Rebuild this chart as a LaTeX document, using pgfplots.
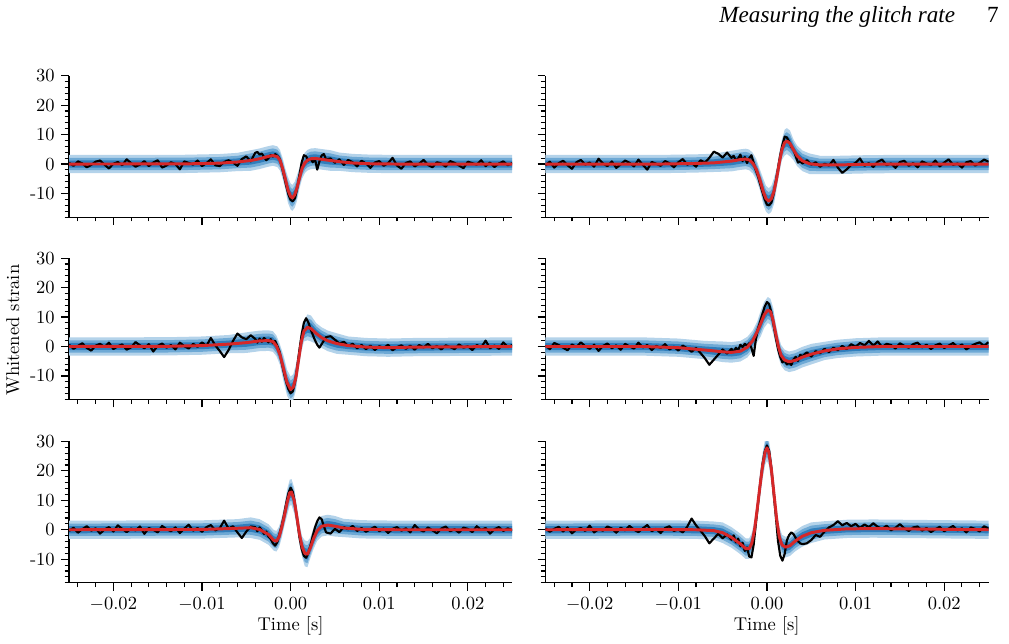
\documentclass[border=0pt]{standalone}
\usepackage{fontspec}
\usepackage{pgfplots}
\pgfplotsset{compat=1.18}
\usepackage{pgfplotstable}
\usepgfplotslibrary{fillbetween}
\newfontfamily\headfont{Liberation Serif}
\definecolor{bandL}{RGB}{180,211,234}
\definecolor{bandM}{RGB}{110,169,213}
\definecolor{bandD}{RGB}{48,126,188}
\definecolor{medred}{RGB}{214,39,40}
\pgfplotsset{
  panel/.style={
    scale only axis, width=239.5pt, height=76.4pt,
    xmin=-25, xmax=25, ymin=-18, ymax=30,
    axis x line=bottom, axis y line=left,
    axis line style={line width=0.6pt, -},
    tick align=outside,
    xtick={-20,-10,0,10,20},
    minor xtick={-24,-22,...,24},
    ytick={-10,0,10,20,30},
    minor ytick={-18,-16,...,28},
    major tick length=4.2pt, minor tick length=2.4pt,
    tick style={line width=0.6pt, black},
    xticklabels={}, yticklabels={},
    anchor=south west,
  },
  ylab/.style={yticklabels={-10,0,10,20,30}},
  xlab/.style={xticklabels={$-0.02$,$-0.01$,$0.00$,$0.01$,$0.02$}},
}
\newcommand{\panelplots}[2]{%
  \addplot[name path=hh3, draw=none, forget plot] table[x=t,y=h3]{#1};
  \addplot[name path=ll3, draw=none, forget plot] table[x=t,y=l3]{#1};
  \addplot[bandL, draw=none, forget plot] fill between[of=hh3 and ll3];
  \addplot[name path=hh2, draw=none, forget plot] table[x=t,y=h2]{#1};
  \addplot[name path=ll2, draw=none, forget plot] table[x=t,y=l2]{#1};
  \addplot[bandM, draw=none, forget plot] fill between[of=hh2 and ll2];
  \addplot[name path=hh1, draw=none, forget plot] table[x=t,y=h1]{#1};
  \addplot[name path=ll1, draw=none, forget plot] table[x=t,y=l1]{#1};
  \addplot[bandD, draw=none, forget plot] fill between[of=hh1 and ll1];
  \addplot[black, line width=1.15pt, line join=round] table[x=t,y=y]{#2};
  \addplot[medred, line width=1.6pt, line join=round] table[x=t,y=m]{#1};
}
\begin{document}
% ---------- median and credible bands (time in ms) ----------
\pgfplotstableread{
t m l3 l2 l1 h1 h2 h3
-25 0 -3.1 -2.1 -1.2 1.2 2.1 3.1
-12 0.05 -3.05 -2.05 -1.15 1.25 2.15 3.15
-8 0.3 -2.8 -1.8 -0.9 1.5 2.4 3.4
-6 0.7 -2.4 -1.4 -0.5 1.9 2.8 3.8
-4.5 1.2 -2.3 -1.2 -0.2 2.6 3.6 4.7
-3.5 1.8 -1.7 -0.6 0.4 3.2 4.2 5.3
-2.5 2.6 -0.9 0.2 1.2 4.0 5.0 6.1
-2 2.9 -0.6 0.5 1.5 4.3 5.3 6.4
-1.5 2.5 -1.0 0.1 1.1 3.9 4.9 6.0
-1.2 1.3 -2.2 -1.1 -0.1 2.7 3.7 4.8
-0.9 -1.5 -5.0 -3.9 -2.9 -0.1 0.9 2.0
-0.6 -5 -8.5 -7.4 -6.4 -3.6 -2.6 -1.5
-0.3 -8.8 -13.2 -11.8 -10.6 -7.0 -5.8 -4.4
0 -11 -15.4 -14.0 -12.8 -9.2 -8.0 -6.6
0.2 -11.5 -15.9 -14.5 -13.3 -9.7 -8.5 -7.1
0.45 -10.5 -14.9 -13.5 -12.3 -8.7 -7.5 -6.1
0.7 -8.3 -12.7 -11.3 -10.1 -6.5 -5.3 -3.9
1.0 -4.8 -8.3 -7.2 -6.2 -3.4 -2.4 -1.3
1.3 -1.4 -4.9 -3.8 -2.8 0.0 1.0 2.1
1.6 0.4 -3.1 -2.0 -1.0 1.8 2.8 3.9
1.9 1.3 -2.2 -1.1 -0.1 2.7 3.7 4.8
2.3 1.8 -1.7 -0.6 0.4 3.2 4.2 5.3
2.8 1.9 -1.6 -0.5 0.5 3.3 4.3 5.4
3.5 1.6 -1.9 -0.8 0.2 3.0 4.0 5.1
4.5 1.2 -2.3 -1.2 -0.2 2.6 3.6 4.7
5.5 0.8 -2.3 -1.3 -0.4 2.0 2.9 3.9
7 0.35 -2.75 -1.75 -0.85 1.55 2.45 3.45
9 0.1 -3.0 -2.0 -1.1 1.3 2.2 3.2
12 0 -3.1 -2.1 -1.2 1.2 2.1 3.1
25 0 -3.1 -2.1 -1.2 1.2 2.1 3.1
}\bandA
\pgfplotstableread{
t m l3 l2 l1 h1 h2 h3
-25 0 -3.1 -2.1 -1.2 1.2 2.1 3.1
-12 0 -3.1 -2.1 -1.2 1.2 2.1 3.1
-8 0.2 -2.9 -1.9 -1.0 1.4 2.3 3.3
-6 0.4 -2.7 -1.7 -0.8 1.6 2.5 3.5
-4 1.0 -2.5 -1.4 -0.4 2.4 3.4 4.5
-3 1.5 -2.0 -0.9 0.1 2.9 3.9 5.0
-2.4 1.7 -1.8 -0.7 0.3 3.1 4.1 5.2
-2 1.4 -2.1 -1.0 0.0 2.8 3.8 4.9
-1.6 0.3 -3.2 -2.1 -1.1 1.7 2.7 3.8
-1.2 -1.8 -5.3 -4.2 -3.2 -0.4 0.6 1.7
-0.8 -5.3 -8.8 -7.7 -6.7 -3.9 -2.9 -1.8
-0.4 -9.5 -13.9 -12.5 -11.3 -7.7 -6.5 -5.1
-0.1 -11.8 -16.2 -14.8 -13.6 -10.0 -8.8 -7.4
0.2 -12.6 -17.0 -15.6 -14.4 -10.8 -9.6 -8.2
0.5 -11.8 -16.2 -14.8 -13.6 -10.0 -8.8 -7.4
0.8 -9.2 -13.6 -12.2 -11.0 -7.4 -6.2 -4.8
1.1 -4.8 -8.3 -7.2 -6.2 -3.4 -2.4 -1.3
1.4 0.5 -3.0 -1.9 -0.9 1.9 2.9 4.0
1.7 5.0 1.5 2.6 3.6 6.4 7.4 8.5
2.0 7.3 2.9 4.3 5.5 9.1 10.3 11.7
2.25 7.8 3.4 4.8 6.0 9.6 10.8 12.2
2.6 7.0 2.6 4.0 5.2 8.8 10.0 11.4
3.0 4.8 1.3 2.4 3.4 6.2 7.2 8.3
3.4 2.8 -0.7 0.4 1.4 4.2 5.2 6.3
4.0 1.1 -2.4 -1.3 -0.3 2.5 3.5 4.6
4.8 0.1 -3.4 -2.3 -1.3 1.5 2.5 3.6
6 -0.3 -3.4 -2.4 -1.5 0.9 1.8 2.8
8 -0.3 -3.4 -2.4 -1.5 0.9 1.8 2.8
11 -0.1 -3.2 -2.2 -1.3 1.1 2.0 3.0
14 0 -3.1 -2.1 -1.2 1.2 2.1 3.1
25 0 -3.1 -2.1 -1.2 1.2 2.1 3.1
}\bandB
\pgfplotstableread{
t m l3 l2 l1 h1 h2 h3
-25 0 -3.1 -2.1 -1.2 1.2 2.1 3.1
-14 0.05 -3.05 -2.05 -1.15 1.25 2.15 3.15
-10 0.3 -2.8 -1.8 -0.9 1.5 2.4 3.4
-7 0.8 -2.3 -1.3 -0.4 2.0 2.9 3.9
-5 1.3 -2.2 -1.1 -0.1 2.7 3.7 4.8
-3.5 1.9 -1.6 -0.5 0.5 3.3 4.3 5.4
-2.5 2.0 -1.5 -0.4 0.6 3.4 4.4 5.5
-2 1.7 -1.8 -0.7 0.3 3.1 4.1 5.2
-1.6 0.2 -3.3 -2.2 -1.2 1.6 2.6 3.7
-1.2 -2.8 -6.3 -5.2 -4.2 -1.4 -0.4 0.7
-0.8 -7.5 -11.9 -10.5 -9.3 -5.7 -4.5 -3.1
-0.4 -12.3 -16.7 -15.3 -14.1 -10.5 -9.3 -7.9
0 -14.6 -19.0 -17.6 -16.4 -12.8 -11.6 -10.2
0.3 -13.8 -18.2 -16.8 -15.6 -12.0 -10.8 -9.4
0.6 -10.5 -14.9 -13.5 -12.3 -8.7 -7.5 -6.1
0.9 -4.5 -8.0 -6.9 -5.9 -3.1 -2.1 -1.0
1.2 1.5 -2.0 -0.9 0.1 2.9 3.9 5.0
1.5 5.2 1.7 2.8 3.8 6.6 7.6 8.7
1.9 6.5 2.1 3.5 4.7 8.3 9.5 10.9
2.3 6.1 1.7 3.1 4.3 7.9 9.1 10.5
2.9 4.4 0.9 2.0 3.0 5.8 6.8 7.9
3.5 3.0 -0.5 0.6 1.6 4.4 5.4 6.5
4.2 1.9 -1.6 -0.5 0.5 3.3 4.3 5.4
5.2 1.0 -2.5 -1.4 -0.4 2.4 3.4 4.5
6.5 0.3 -2.8 -1.8 -0.9 1.5 2.4 3.4
8.5 -0.2 -3.3 -2.3 -1.4 1.0 1.9 2.9
11 -0.4 -3.5 -2.5 -1.6 0.8 1.7 2.7
14 -0.2 -3.3 -2.3 -1.4 1.0 1.9 2.9
25 0 -3.1 -2.1 -1.2 1.2 2.1 3.1
}\bandC
\pgfplotstableread{
t m l3 l2 l1 h1 h2 h3
-25 0 -3.1 -2.1 -1.2 1.2 2.1 3.1
-14 0 -3.1 -2.1 -1.2 1.2 2.1 3.1
-10 -0.4 -3.5 -2.5 -1.6 0.8 1.7 2.7
-7 -1.2 -4.3 -3.3 -2.4 0.0 0.9 1.9
-5 -1.8 -5.3 -4.2 -3.2 -0.4 0.6 1.7
-4 -2.0 -5.5 -4.4 -3.4 -0.6 0.4 1.5
-3 -1.6 -5.1 -4.0 -3.0 -0.2 0.8 1.9
-2.2 -0.2 -3.7 -2.6 -1.6 1.2 2.2 3.3
-1.6 2.0 -1.5 -0.4 0.6 3.4 4.4 5.5
-1.1 5.0 1.5 2.6 3.6 6.4 7.4 8.5
-0.7 7.8 3.4 4.8 6.0 9.6 10.8 12.2
-0.3 10.8 6.4 7.8 9.0 12.6 13.8 15.2
0.1 12.4 8.0 9.4 10.6 14.2 15.4 16.8
0.4 11.8 7.4 8.8 10.0 13.6 14.8 16.2
0.7 8.8 4.4 5.8 7.0 10.6 11.8 13.2
1.0 4.2 0.7 1.8 2.8 5.6 6.6 7.7
1.3 -0.1 -3.6 -2.5 -1.5 1.3 2.3 3.4
1.6 -3.0 -6.5 -5.4 -4.4 -1.6 -0.6 0.5
2.0 -4.6 -8.1 -7.0 -6.0 -3.2 -2.2 -1.1
2.5 -5.2 -8.7 -7.6 -6.6 -3.8 -2.8 -1.7
3.2 -4.7 -8.2 -7.1 -6.1 -3.3 -2.3 -1.2
4.0 -3.6 -7.1 -6.0 -5.0 -2.2 -1.2 -0.1
5.0 -2.6 -6.1 -5.0 -4.0 -1.2 -0.2 0.9
6.5 -1.5 -4.6 -3.6 -2.7 -0.3 0.6 1.6
8 -0.8 -3.9 -2.9 -2.0 0.4 1.3 2.3
10 -0.3 -3.4 -2.4 -1.5 0.9 1.8 2.8
13 0 -3.1 -2.1 -1.2 1.2 2.1 3.1
25 0 -3.1 -2.1 -1.2 1.2 2.1 3.1
}\bandD
\pgfplotstableread{
t m l3 l2 l1 h1 h2 h3
-25 0 -3.1 -2.1 -1.2 1.2 2.1 3.1
-10 0.1 -3.0 -2.0 -1.1 1.3 2.2 3.2
-6 0.5 -2.6 -1.6 -0.7 1.7 2.6 3.6
-4.5 0.7 -2.8 -1.7 -0.7 2.1 3.1 4.2
-3.5 0.1 -3.4 -2.3 -1.3 1.5 2.5 3.6
-2.5 -1.6 -5.1 -4.0 -3.0 -0.2 0.8 1.9
-1.9 -3.6 -7.1 -6.0 -5.0 -2.2 -1.2 -0.1
-1.6 -3.9 -7.4 -6.3 -5.3 -2.5 -1.5 -0.4
-1.3 -2.4 -5.9 -4.8 -3.8 -1.0 0.0 1.1
-1.0 0.8 -2.7 -1.6 -0.6 2.2 3.2 4.3
-0.7 4.8 1.3 2.4 3.4 6.2 7.2 8.3
-0.4 9.2 4.8 6.2 7.4 11.0 12.2 13.6
-0.1 12.6 8.2 9.6 10.8 14.4 15.6 17.0
0.1 12.8 8.4 9.8 11.0 14.6 15.8 17.2
0.4 10.0 5.6 7.0 8.2 11.8 13.0 14.4
0.7 4.5 1.0 2.1 3.1 5.9 6.9 8.0
1.0 -1.5 -5.0 -3.9 -2.9 -0.1 0.9 2.0
1.3 -5.8 -9.3 -8.2 -7.2 -4.4 -3.4 -2.3
1.6 -8.0 -12.4 -11.0 -9.8 -6.2 -5.0 -3.6
1.9 -8.3 -12.7 -11.3 -10.1 -6.5 -5.3 -3.9
2.2 -6.3 -9.8 -8.7 -7.7 -4.9 -3.9 -2.8
2.6 -2.9 -6.4 -5.3 -4.3 -1.5 -0.5 0.6
3.0 -0.3 -3.8 -2.7 -1.7 1.1 2.1 3.2
3.5 1.2 -2.3 -1.2 -0.2 2.6 3.6 4.7
4.2 1.6 -1.9 -0.8 0.2 3.0 4.0 5.1
5 1.2 -2.3 -1.2 -0.2 2.6 3.6 4.7
6 0.6 -2.5 -1.5 -0.6 1.8 2.7 3.7
8 0.15 -2.95 -1.95 -1.05 1.35 2.25 3.25
12 0 -3.1 -2.1 -1.2 1.2 2.1 3.1
25 0 -3.1 -2.1 -1.2 1.2 2.1 3.1
}\bandE
\pgfplotstableread{
t m l3 l2 l1 h1 h2 h3
-25 0 -3.1 -2.1 -1.2 1.2 2.1 3.1
-12 0.1 -3.0 -2.0 -1.1 1.3 2.2 3.2
-8 0 -3.1 -2.1 -1.2 1.2 2.1 3.1
-6 -0.3 -3.4 -2.4 -1.5 0.9 1.8 2.8
-5 -1.0 -4.5 -3.4 -2.4 0.4 1.4 2.5
-4 -2.6 -6.1 -5.0 -4.0 -1.2 -0.2 0.9
-3 -4.8 -8.3 -7.2 -6.2 -3.4 -2.4 -1.3
-2.4 -6.4 -9.9 -8.8 -7.8 -5.0 -4.0 -2.9
-2.0 -6.4 -9.9 -8.8 -7.8 -5.0 -4.0 -2.9
-1.7 -4.5 -8.0 -6.9 -5.9 -3.1 -2.1 -1.0
-1.4 0.0 -3.5 -2.4 -1.4 1.4 2.4 3.5
-1.1 7.0 3.5 4.6 5.6 8.4 9.4 10.5
-0.8 14.5 10.1 11.5 12.7 16.3 17.5 18.9
-0.5 21.5 17.1 18.5 19.7 23.3 24.5 25.9
-0.2 26.5 22.1 23.5 24.7 28.3 29.5 30.9
0.0 27.8 23.4 24.8 26.0 29.6 30.8 32.2
0.2 26.5 22.1 23.5 24.7 28.3 29.5 30.9
0.5 20.5 16.1 17.5 18.7 22.3 23.5 24.9
0.8 12 7.6 9.0 10.2 13.8 15.0 16.4
1.1 3.5 0.0 1.1 2.1 4.9 5.9 7.0
1.4 -2.5 -6.0 -4.9 -3.9 -1.1 -0.1 1.0
1.7 -5.2 -8.7 -7.6 -6.6 -3.8 -2.8 -1.7
2.1 -5.9 -9.4 -8.3 -7.3 -4.5 -3.5 -2.4
2.6 -5.4 -8.9 -7.8 -6.8 -4.0 -3.0 -1.9
3.2 -3.8 -7.3 -6.2 -5.2 -2.4 -1.4 -0.3
4.0 -2.2 -5.7 -4.6 -3.6 -0.8 0.2 1.3
5 -1.0 -4.5 -3.4 -2.4 0.4 1.4 2.5
6.5 -0.2 -3.3 -2.3 -1.4 1.0 1.9 2.9
9 0.3 -2.8 -1.8 -0.9 1.5 2.4 3.4
12 0.4 -2.7 -1.7 -0.8 1.6 2.5 3.5
25 0 -3.1 -2.1 -1.2 1.2 2.1 3.1
}\bandF
% ---------- whitened data (time in ms) ----------
\pgfplotstableread{
t y
-25 0.4
-24.5 -0.6
-24 0.9
-23.5 0.2
-23 -1.1
-22.5 -0.3
-22 0.8
-21.5 1.2
-21 -0.2
-20.5 -1.5
-20 0.1
-19.5 0.7
-19 -0.4
-18.5 1.6
-18 0.3
-17.5 -0.9
-17 -0.2
-16.5 1.0
-16 -0.7
-15.5 0.5
-15 1.3
-14.5 -1.2
-14 -0.5
-13.5 0.6
-13 0.0
-12.5 -1.8
-12 0.9
-11.5 0.4
-11 -0.2
-10.5 1.2
-10 -0.7
-9.5 0.3
-9 1.6
-8.5 -0.4
-8 -0.7
-7.5 0.7
-7 1.3
-6.5 0.5
-6 -0.6
-5.5 1.7
-5 2.6
-4.5 0.9
-4 3.8
-3.75 4.1
-3.5 3.2
-3.25 3.6
-3 2.4
-2.75 1.3
-2.5 2.0
-2.25 3.1
-2 2.5
-1.75 3.4
-1.5 2.8
-1.25 1.9
-1 -0.8
-0.75 -4.0
-0.5 -7.4
-0.25 -10.3
0 -12.2
0.25 -12.6
0.5 -11.6
0.75 -8.0
1.0 -3.6
1.25 0.6
1.5 3.0
1.75 2.6
2.0 1.2
2.25 1.8
2.5 0.6
2.75 1.7
3.0 -1.9
3.25 0.9
3.5 2.9
3.75 3.4
4.0 1.6
4.5 1.9
5 0.4
5.5 1.6
6 -0.3
6.5 1.4
7 0.6
7.5 -0.8
8 1.1
8.5 0.2
9 -1.3
9.5 0.5
10 1.0
10.5 -0.6
11 0.3
11.5 2.1
12 -0.5
12.5 -1.6
13 0.4
13.5 0.9
14 -0.8
14.5 0.1
15 1.4
15.5 -0.3
16 -1.1
16.5 0.6
17 0.2
17.5 -0.9
18 1.0
18.5 0.4
19 -0.5
19.5 -1.4
20 0.8
20.5 0.3
21 -0.2
21.5 1.3
22 -0.7
22.5 0.5
23 -1.0
23.5 0.2
24 0.9
24.5 -0.4
25 0.3
}\dataA
\pgfplotstableread{
t y
-25 -0.5
-24.5 0.8
-24 -1.2
-23.5 0.3
-23 1.1
-22.5 -0.4
-22 -1.6
-21.5 0.6
-21 1.4
-20.5 -0.2
-20 0.5
-19.5 -0.9
-19 1.8
-18.5 0.2
-18 -0.7
-17.5 0.9
-17 -1.3
-16.5 -0.1
-16 1.2
-15.5 0.4
-15 -0.8
-14.5 1.5
-14 -0.3
-13.5 -1.9
-13 0.7
-12.5 0.1
-12 -0.6
-11.5 1.0
-11 0.3
-10.5 -1.1
-10 0.6
-9.5 1.7
-9 -0.2
-8.5 0.4
-8 -0.9
-7.5 1.3
-7 0.5
-6.5 2.1
-6 4.2
-5.5 3.5
-5 2.2
-4.5 3.9
-4 2.1
-3.75 2.8
-3.5 1.2
-3.25 1.9
-3 3.2
-2.75 1.0
-2.5 2.4
-2.25 0.3
-2 2.0
-1.75 3.0
-1.5 0.4
-1.25 -2.2
-1 -4.3
-0.75 -7.0
-0.5 -9.6
-0.25 -12.0
0 -13.8
0.25 -14.0
0.5 -13.1
0.75 -10.2
1.0 -5.8
1.25 -1.4
1.5 3.0
1.75 6.6
2.0 9.3
2.25 9.0
2.5 7.6
2.75 5.8
3.0 4.9
3.25 2.6
3.5 0.5
3.75 0.9
4.0 0.2
4.5 1.3
5 -0.2
5.5 0.6
6 -0.9
6.5 0.1
7 -0.5
7.5 1.4
8 -1.2
8.5 -3.0
9 -1.8
9.5 -0.3
10 0.4
10.5 1.9
11 -0.6
11.5 0.3
12 -1.0
12.5 0.8
13 1.5
13.5 -0.4
14 0.2
14.5 -1.3
15 0.7
15.5 1.1
16 -0.6
16.5 0.3
17 -1.1
17.5 0.9
18 0.2
18.5 -0.4
19 1.2
19.5 -0.8
20 0.5
20.5 1.6
21 -0.3
21.5 0.2
22 -1.2
22.5 0.6
23 1.0
23.5 -0.5
24 0.4
24.5 1.5
25 0.8
}\dataB
\pgfplotstableread{
t y
-25 0.6
-24.5 -0.8
-24 0.2
-23.5 1.1
-23 -0.5
-22.5 -1.4
-22 0.3
-21.5 0.9
-21 -0.2
-20.5 1.3
-20 -0.9
-19.5 0.1
-19 0.7
-18.5 -1.1
-18 -0.3
-17.5 1.5
-17 0.4
-16.5 -0.6
-16 0.8
-15.5 -1.7
-15 0.2
-14.5 1.0
-14 -0.4
-13.5 0.5
-13 -1.0
-12.5 1.3
-12 0.1
-11.5 -0.7
-11 0.9
-10.5 -0.1
-10 1.4
-9.5 0.2
-9 2.9
-8.5 0.4
-8 -1.5
-7.5 -3.6
-7 -1.2
-6.5 1.9
-6 4.4
-5.5 3.1
-5 2.5
-4.5 3.8
-4 2.6
-3.75 1.3
-3.5 2.7
-3.25 1.6
-3 2.9
-2.75 2.2
-2.5 1.4
-2.25 2.5
-2 1.1
-1.75 1.9
-1.5 0.2
-1.25 -1.8
-1 -5.6
-0.75 -9.0
-0.5 -12.1
-0.25 -14.5
0 -15.9
0.25 -15.2
0.5 -12.0
0.75 -6.8
1.0 -1.0
1.25 4.2
1.5 8.1
1.75 9.6
2.0 8.2
2.25 5.9
2.5 4.0
2.75 2.1
3.0 0.6
3.25 -0.4
3.5 0.8
3.75 2.0
4.0 3.2
4.5 3.5
5 2.3
5.5 1.0
6 1.6
6.5 0.2
7 0.9
7.5 -0.6
8 0.5
8.5 -0.9
9 0.3
9.5 -1.2
10 0.1
10.5 -0.5
11 0.6
11.5 -1.3
12 -0.2
12.5 0.4
13 -0.8
13.5 0.3
14 -1.1
14.5 0.5
15 -0.3
15.5 0.9
16 -0.6
16.5 0.2
17 -1.0
17.5 0.4
18 -0.2
18.5 -0.9
19 0.7
19.5 -0.4
20 0.1
20.5 -1.2
21 0.5
21.5 -0.3
22 2.0
22.5 -0.6
23 0.3
23.5 -0.8
24 1.4
24.5 -0.2
25 0.5
}\dataC
\pgfplotstableread{
t y
-25 0.3
-24.5 -0.9
-24 1.2
-23.5 0.5
-23 -0.4
-22.5 -1.3
-22 0.7
-21.5 -0.2
-21 1.4
-20.5 0.1
-20 -0.8
-19.5 0.6
-19 -1.5
-18.5 0.2
-18 1.0
-17.5 -0.6
-17 0.4
-16.5 -1.1
-16 0.9
-15.5 0.0
-15 -0.7
-14.5 1.3
-14 -0.3
-13.5 0.5
-13 -1.2
-12.5 0.2
-12 -0.5
-11.5 0.8
-11 -1.0
-10.5 -0.1
-10 -1.4
-9.5 0.3
-9 -0.6
-8.5 -1.8
-8 -0.5
-7.5 -2.2
-7 -4.0
-6.5 -6.2
-6 -4.5
-5.5 -2.8
-5 -1.0
-4.5 -2.4
-4 -0.8
-3.75 -1.9
-3.5 -0.4
-3.25 -1.3
-3 0.6
-2.75 -0.2
-2.5 0.9
-2.25 0.3
-2 1.1
-1.75 -0.5
-1.5 -3.2
-1.25 2.4
-1 6.3
-0.75 8.6
-0.5 11.2
-0.25 13.6
0 15.1
0.25 14.3
0.5 11.6
0.75 7.2
1.0 2.9
1.25 -0.9
1.5 -3.6
1.75 -5.4
2.0 -4.8
2.25 -6.1
2.5 -5.5
2.75 -6.3
3.0 -4.4
3.25 -3.5
3.5 -4.9
3.75 -2.8
4.0 -3.3
4.5 -2.0
5 -3.4
5.5 -1.6
6 -2.3
6.5 -0.8
7 -1.9
7.5 -0.4
8 -1.3
8.5 0.2
9 -0.9
9.5 0.8
10 -0.1
10.5 1.2
11 0.4
11.5 1.9
12 0.3
12.5 1.7
13 -0.2
13.5 0.9
14 0.5
14.5 -0.7
15 1.1
15.5 0.2
16 -0.4
16.5 0.8
17 1.3
17.5 -0.3
18 0.6
18.5 -0.9
19 0.4
19.5 1.0
20 -0.5
20.5 0.3
21 1.2
21.5 -0.2
22 0.7
22.5 -1.0
23 0.1
23.5 0.9
24 1.4
24.5 0.2
25 1.5
}\dataD
\pgfplotstableread{
t y
-25 -0.4
-24.5 0.7
-24 -1.0
-23.5 0.2
-23 1.2
-22.5 -0.3
-22 0.5
-21.5 -1.3
-21 0.1
-20.5 0.9
-20 -0.6
-19.5 1.5
-19 0.3
-18.5 -0.8
-18 0.4
-17.5 -0.2
-17 1.1
-16.5 -1.4
-16 0.6
-15.5 0.0
-15 -0.9
-14.5 1.3
-14 0.2
-13.5 -0.5
-13 0.8
-12.5 -1.1
-12 0.4
-11.5 1.7
-11 -0.3
-10.5 0.6
-10 -0.7
-9.5 0.9
-9 1.6
-8.5 -0.2
-8 0.5
-7.5 3.1
-7 0.4
-6.5 1.2
-6 -0.9
-5.5 -2.8
-5 -0.6
-4.5 1.1
-4 0.9
-3.75 -0.5
-3.5 0.8
-3.25 -0.2
-3 -1.4
-2.75 -0.6
-2.5 -2.3
-2.25 -3.1
-2 -4.6
-1.75 -5.4
-1.5 -4.2
-1.25 -1.3
-1 1.5
-0.75 5.0
-0.5 9.0
-0.25 12.4
0 14.3
0.25 12.8
0.5 8.6
0.75 3.0
1.0 -2.6
1.25 -6.6
1.5 -8.9
1.75 -9.5
2.0 -7.8
2.25 -5.2
2.5 -2.0
2.75 0.8
3.0 2.9
3.25 4.2
3.5 3.6
3.75 1.2
4.0 -0.9
4.5 -1.3
5 0.3
5.5 -0.8
6 0.9
6.5 0.2
7 1.3
7.5 -0.4
8 0.6
8.5 -0.7
9 0.2
9.5 1.0
10 -0.5
10.5 0.4
11 -1.1
11.5 0.3
12 0.9
12.5 -0.3
13 0.5
13.5 -0.9
14 1.6
14.5 0.1
15 -0.6
15.5 0.8
16 -0.2
16.5 -1.2
17 0.4
17.5 1.1
18 -0.5
18.5 0.2
19 -1.0
19.5 0.7
20 0.3
20.5 -0.8
21 1.2
21.5 -0.1
22 0.6
22.5 -1.3
23 0.2
23.5 0.9
24 -0.4
24.5 0.5
25 -0.2
}\dataE
\pgfplotstableread{
t y
-25 0.5
-24.5 -0.7
-24 0.3
-23.5 1.0
-23 -0.6
-22.5 0.8
-22 -1.2
-21.5 0.1
-21 0.6
-20.5 -0.4
-20 1.4
-19.5 -0.9
-19 0.2
-18.5 -0.3
-18 1.1
-17.5 0.4
-17 -1.0
-16.5 0.7
-16 -0.2
-15.5 1.3
-15 0.0
-14.5 -0.8
-14 0.5
-13.5 1.6
-13 -0.5
-12.5 0.3
-12 -1.1
-11.5 0.6
-11 1.2
-10.5 -0.4
-10 0.1
-9.5 -0.9
-9 1.0
-8.5 3.8
-8 1.5
-7.5 -0.3
-7 -2.2
-6.5 -4.6
-6 -3.0
-5.5 -1.4
-5 -2.9
-4.5 -1.6
-4 -3.4
-3.75 -1.9
-3.5 -4.3
-3.25 -3.0
-3 -5.6
-2.75 -4.4
-2.5 -7.2
-2.25 -6.0
-2 -9.1
-1.75 -9.4
-1.5 -5.1
-1.25 2.0
-1 9.0
-0.75 15.9
-0.5 22.3
-0.25 26.6
0 28.6
0.25 26.8
0.5 20.9
0.75 12.6
1.0 4.6
1.25 -3.9
1.5 -8.8
1.75 -10.5
2.0 -8.2
2.25 -3.6
2.5 -1.8
2.75 -0.9
3.0 -1.5
3.25 -2.8
3.5 -3.9
3.75 -4.6
4.0 -4.9
4.5 -4.6
5 -3.5
5.5 -1.8
6 -2.4
6.5 -0.6
7 0.8
7.5 1.6
8 2.9
8.5 1.5
9 2.3
9.5 1.2
10 2.0
10.5 0.6
11 1.8
11.5 0.9
12 2.2
12.5 1.0
13 0.3
13.5 1.4
14 -0.2
14.5 0.7
15 1.9
15.5 0.5
16 -0.4
16.5 0.8
17 1.1
17.5 -0.3
18 0.6
18.5 -0.8
19 0.2
19.5 1.0
20 -0.5
20.5 0.4
21 1.3
21.5 -0.2
22 0.5
22.5 -0.9
23 0.8
23.5 0.3
24 -0.6
24.5 1.2
25 0.4
}\dataF
\begin{tikzpicture}
\coordinate (P1) at (36.88pt,230.20pt);
\coordinate (P2) at (294.30pt,230.20pt);
\coordinate (P3) at (36.88pt,131.60pt);
\coordinate (P4) at (294.30pt,131.60pt);
\coordinate (P5) at (36.88pt,32.56pt);
\coordinate (P6) at (294.30pt,32.56pt);
\begin{axis}[panel, ylab, at={(P1)}]
\panelplots{\bandA}{\dataA}
\end{axis}
\begin{axis}[panel, at={(P2)}]
\panelplots{\bandB}{\dataB}
\end{axis}
\begin{axis}[panel, ylab, at={(P3)}]
\panelplots{\bandC}{\dataC}
\end{axis}
\begin{axis}[panel, at={(P4)}]
\panelplots{\bandD}{\dataD}
\end{axis}
\begin{axis}[panel, ylab, xlab, at={(P5)}]
\panelplots{\bandE}{\dataE}
\end{axis}
\begin{axis}[panel, xlab, at={(P6)}]
\panelplots{\bandF}{\dataF}
\end{axis}
\node[rotate=90] at (6.48pt,169.02pt) {Whitened strain};
\node at (156.6pt,9.18pt) {Time [s]};
\node at (413.91pt,9.18pt) {Time [s]};
\node[anchor=base east, font=\headfont\itshape\fontsize{12.5}{14}\selectfont] at (519.3pt,335.5pt) {Measuring the glitch rate};
\node[anchor=base east, font=\headfont\fontsize{12.5}{14}\selectfont] at (542.8pt,335.5pt) {7};
\path (0pt,0pt) rectangle (544.86pt,346.68pt);
\end{tikzpicture}
\end{document}
